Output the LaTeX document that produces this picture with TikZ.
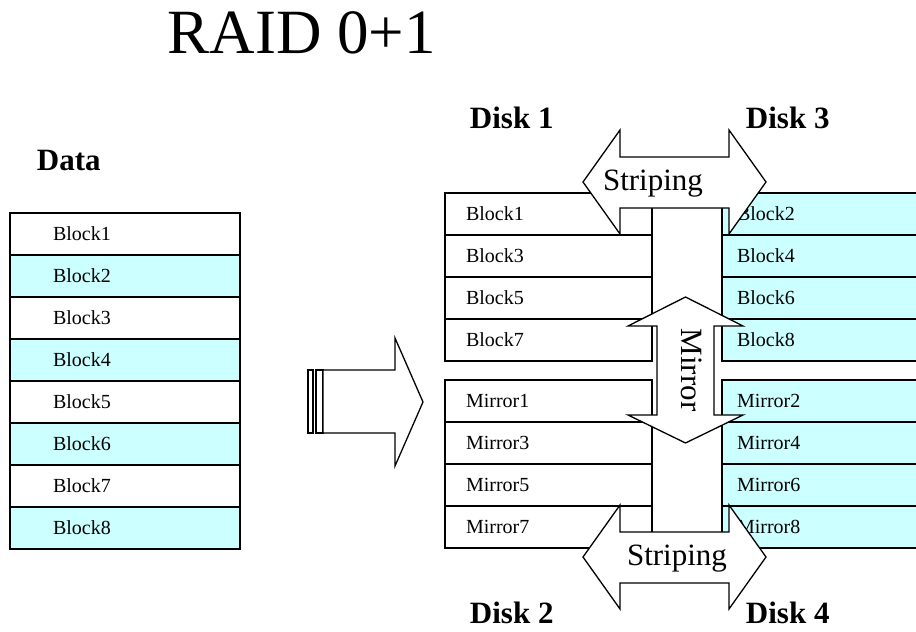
\documentclass[tikz,border=0pt]{standalone}
\usepackage{fontspec}
\setmainfont{Liberation Serif}
\definecolor{cellcyan}{RGB}{204,255,255}
\begin{document}
\begin{tikzpicture}[x=1pt,y=-1pt,line width=1.3pt,line join=miter,
  cellbox/.style={draw,rectangle,inner ysep=0pt,minimum height=42pt,align=left,font=\fontsize{20}{21}\selectfont},
  datacell/.style={cellbox,inner xsep=43pt,text width=144pt},
  leftcell/.style={cellbox,inner xsep=21pt,text width=165pt,fill=white},
  rightcell/.style={cellbox,inner xsep=15pt,text width=178pt,fill=cellcyan},
  bigarrow/.style={draw,fill=white},
  head/.style={font=\fontsize{31}{32}\selectfont\bfseries,anchor=base west},
  arrowtext/.style={font=\fontsize{31}{32}\selectfont,inner sep=0pt}]
\def \picw{916};
\def \pich{632};
\useasboundingbox (0,0) rectangle (\picw,\pich);
\clip (0,0) rectangle (\picw,\pich);
% title and headings
\node[font=\fontsize{63}{65}\selectfont,anchor=base west,inner sep=0pt] (title) at (167,53) {RAID 0+1};
\node[head] (data) at (33,170) {Data};
\foreach \n/\x/\y in {1/466/128,3/742/128,2/466/623,4/742/623}{\node[head] (disk\n) at (\x,\y) {Disk \n};}
% data blocks
\foreach \i/\c in {1/white,2/cellcyan,3/white,4/cellcyan,5/white,6/cellcyan,7/white,8/cellcyan}{
  \node[datacell,fill=\c] (data\i) at (125,{234+42*(\i-1)}) {Block\i};}
% striped arrow
\draw (308,370) rectangle (313,433);
\draw (316,370) rectangle (323,433);
\draw[bigarrow] (323,370) -- (395,370) -- (395,338) -- (423,402) -- (395,466) -- (395,433) -- (323,433) -- cycle;
% disks
\foreach \i/\y in {1/214,2/256,3/298,4/340}{
  \pgfmathtruncatemacro\l{2*\i-1}
  \pgfmathtruncatemacro\r{2*\i}
  \node[leftcell] (block\l) at (548.5,\y) {Block\l};
  \node[rightcell] (block\r) at (826,\y) {Block\r};
  \node[leftcell] (mirror\l) at (548.5,\y+187) {Mirror\l};
  \node[rightcell] (mirror\r) at (826,\y+187) {Mirror\r};}
% striping arrows
\foreach \c/\n/\t in {182/top/653,557/bottom/677}{
  \draw[bigarrow] (583,\c) -- ++(37,-52) -- ++(0,27) -- ++(109,0) -- ++(0,-27) -- ++(37,52)
    -- ++(-37,52) -- ++(0,-26) -- ++(-109,0) -- ++(0,26) -- cycle;
  \node[arrowtext,anchor=base] (stripe\n) at (\t,\c+8) {Striping};}
% mirror arrow
\draw[bigarrow] (685.5,297) -- (743,326) -- (714,326) -- (714,415) -- (743,415) -- (685.5,443)
  -- (628,415) -- (657,415) -- (657,326) -- (628,326) -- cycle;
\node[arrowtext,rotate=-90] (mirror) at (691.5,370) {Mirror};
\end{tikzpicture}
\end{document}
